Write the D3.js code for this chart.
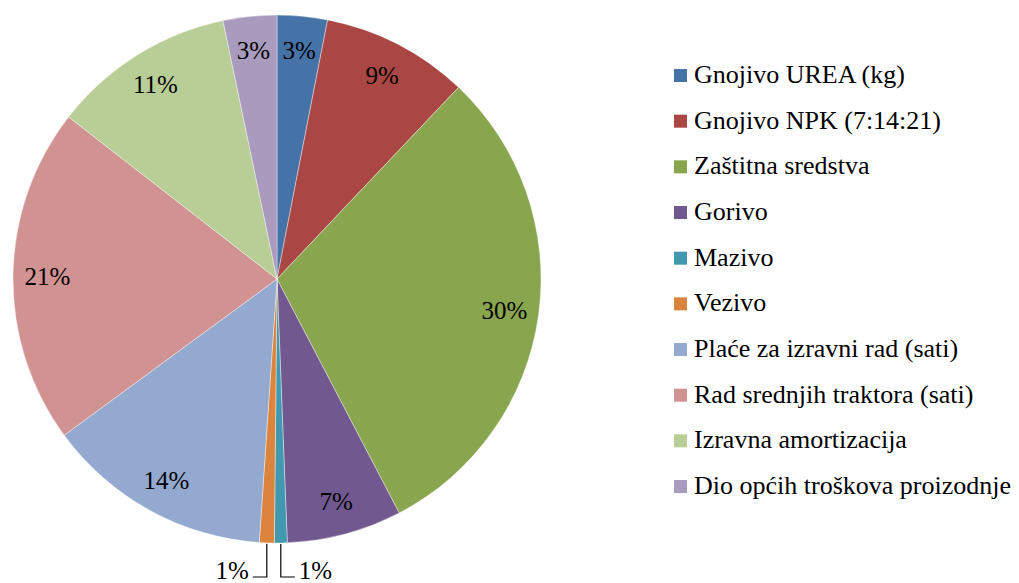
<!DOCTYPE html>
<html>
<head>
<meta charset="utf-8">
<script src="https://cdn.jsdelivr.net/npm/d3@7"></script>
<style>
  body { margin: 0; background: #fff; }
</style>
</head>
<body>
<svg id="chart" width="1019" height="583"></svg>
<script>
const categories = [
  "Gnojivo UREA (kg)",
  "Gnojivo NPK (7:14:21)",
  "Zaštitna sredstva",
  "Gorivo",
  "Mazivo",
  "Vezivo",
  "Plaće za izravni rad (sati)",
  "Rad srednjih traktora (sati)",
  "Izravna amortizacija",
  "Dio općih troškova proizodnje"
];
const values = [3.07, 9.0, 30.27, 7.04, 0.78, 0.91, 13.85, 20.6, 11.2, 3.28];
const colors = ["#4572A7", "#AA4643", "#89A54E", "#71588F", "#4198AF",
                "#DB843D", "#93A9CF", "#D19392", "#B9CD96", "#A99BBD"];

// serif face like Times New Roman in the original
const font = "Times New Roman, Liberation Serif, DejaVu Serif, serif";

const svg = d3.select("#chart");
const cx = 277, cy = 279, radius = 264;

const color = d3.scaleOrdinal().domain(categories).range(colors);
const total = d3.sum(values);

const data = categories.map((c, i) => ({ name: c, value: values[i] }));

const pie = d3.pie().sort(null).value(d => d.value);
const arcs = pie(data);

const arc = d3.arc().innerRadius(0).outerRadius(radius);
const labelArc = d3.arc().innerRadius(radius * 0.87).outerRadius(radius * 0.87);

const g = svg.append("g").attr("transform", `translate(${cx},${cy})`);

g.selectAll("path")
  .data(arcs)
  .join("path")
  .attr("d", arc)
  .attr("fill", d => color(d.data.name))
  .attr("stroke", "#fff")
  .attr("stroke-width", 0.4);

const pct = d => Math.round(d.data.value / total * 100) + "%";

// big slices: label inside
const inside = arcs.filter(d => d.data.value / total >= 0.02);
g.selectAll("text.inside")
  .data(inside)
  .join("text")
  .attr("class", "inside")
  .attr("transform", d => `translate(${labelArc.centroid(d)})`)
  .attr("text-anchor", "middle")
  .attr("dy", "0.35em")
  .style("font-family", font)
  .style("font-size", "25px")
  .text(pct);

// tiny slices: label below with leader line
const outside = arcs.filter(d => d.data.value / total < 0.02);
const lineY = 577 - cy;
outside.forEach(d => {
  const mid = (d.startAngle + d.endAngle) / 2;
  const x0 = Math.sin(mid) * radius;
  const y0 = -Math.cos(mid) * radius;
  const dir = mid < Math.PI ? 1 : -1;
  const x1 = x0 + dir * 14;
  g.append("path")
    .attr("d", `M${x0},${y0 + 1}L${x0},${lineY}L${x1},${lineY}`)
    .attr("fill", "none")
    .attr("stroke", "#000")
    .attr("stroke-width", 1.2);
  g.append("text")
    .attr("x", x1 + dir * 4)
    .attr("y", lineY + 2)
    .attr("text-anchor", dir > 0 ? "start" : "end")
    .style("font-family", font)
    .style("font-size", "25px")
    .text(pct(d));
});

// legend
const legend = svg.append("g").attr("transform", "translate(674,69)");
const rowH = 45.67;
const rows = legend.selectAll("g")
  .data(categories)
  .join("g")
  .attr("transform", (d, i) => `translate(0,${i * rowH})`);
rows.append("rect")
  .attr("width", 13)
  .attr("height", 13)
  .attr("fill", d => color(d));
rows.append("text")
  .attr("x", 20)
  .attr("y", 14)
  .style("font-family", font)
  .style("font-size", "26px")
  .text(d => d);
</script>
</body>
</html>
